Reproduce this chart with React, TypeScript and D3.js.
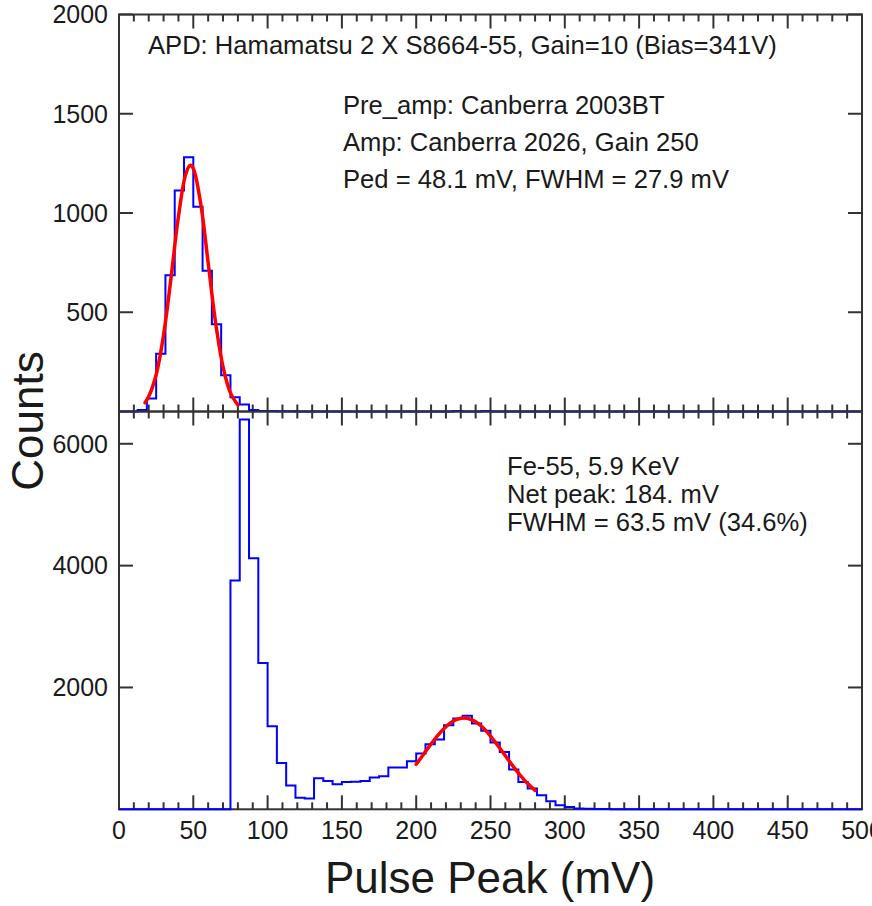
import * as d3 from 'd3'
import React from 'react'

// histogram contents, 80 bins of 6.25 mV between 0 and 500 mV
const BIN_WIDTH = 6.25
const topCounts = [
    0, 0, 8, 65, 291, 687, 1113, 1281, 1032, 709,
    439, 182, 72, 35, 8, 3, 2, 1, 1, 0,
    0, 0, 0, 0, 0, 0, 0, 0, 0, 0,
    0, 0, 0, 0, 0, 0, 2, 0, 0, 2,
    0, 0, 0, 0, 0, 0, 0, 0, 0, 0,
    0, 0, 0, 0, 0, 0, 0, 0, 0, 0,
    0, 0, 0, 0, 0, 0, 0, 0, 0, 0,
    0, 0, 0, 0, 0, 0, 0, 0, 0, 0,
]
const bottomCounts = [
    0, 0, 0, 0, 0, 0, 0, 0, 0, 0,
    0, 0, 3755, 6400, 4120, 2400, 1365, 760, 390, 190,
    176, 510, 466, 411, 449, 452, 466, 521, 543, 685,
    685, 790, 916, 1069, 1146, 1381, 1490, 1535, 1409, 1288,
    1097, 942, 653, 449, 340, 230, 131, 66, 38, 15,
    8, 5, 3, 2, 1, 0, 0, 0, 0, 0,
    0, 0, 0, 0, 0, 0, 0, 0, 0, 0,
    0, 0, 0, 0, 0, 0, 0, 0, 0, 0,
]

// gaussian fits, points [mV, counts]
const pedFit: [number, number][] = [
    [17.5, 44], [20, 75], [25, 185], [30, 386], [35, 673], [40, 982], [45, 1198],
    [48, 1240], [50, 1224], [55, 1046], [60, 749], [65, 448], [70, 225], [75, 94], [80, 33],
]
const peakFit: [number, number][] = [
    [200, 738], [205, 905], [210, 1072], [215, 1227], [220, 1356], [225, 1449], [230, 1495],
    [232, 1500], [235, 1491], [240, 1437], [245, 1338], [250, 1203], [255, 1045], [260, 878],
    [265, 712], [270, 558], [275, 423], [280, 310],
]

const xTickLabels = [0, 50, 100, 150, 200, 250, 300, 350, 400, 450, 500]
const topYTicks = [500, 1000, 1500, 2000]
const bottomYTicks = [2000, 4000, 6000]

const topNotes = [
    'Pre_amp: Canberra 2003BT',
    'Amp: Canberra 2026, Gain 250',
    'Ped = 48.1 mV, FWHM = 27.9 mV',
]
const bottomNotes = [
    'Fe-55, 5.9 KeV',
    'Net peak: 184. mV',
    'FWHM = 63.5 mV (34.6%)',
]

const W = 872
const H = 906
const L = 119, R = 862, T = 14.5, MID = 411.5, B = 809.3
const FONT = '"Liberation Sans", Arial, Helvetica, sans-serif'
const INK = '#1a1a1a'

const x = d3.scaleLinear().domain([0, 500]).range([L, R])
const yTop = d3.scaleLinear().domain([0, 2000]).range([MID, T])
const yBot = d3.scaleLinear().domain([0, 6530]).range([B, MID])

const histPath = (counts: number[], y: d3.ScaleLinear<number, number>) => {
    const pts: [number, number][] = counts.map((c, i) => [i * BIN_WIDTH, c])
    pts.push([500, counts[counts.length - 1]])
    return d3.line<[number, number]>()
        .x(d => x(d[0]))
        .y(d => y(d[1]))
        .curve(d3.curveStepAfter)(pts) || ''
}

const fitPath = (pts: [number, number][], y: d3.ScaleLinear<number, number>) =>
    d3.line<[number, number]>()
        .x(d => x(d[0]))
        .y(d => y(d[1]))
        .curve(d3.curveCatmullRom)(pts) || ''

const Frame = ({ y, top, bottom, ticks }: { y: d3.ScaleLinear<number, number>, top: number, bottom: number, ticks: number[] }) => {
    const minor = d3.range(0, 501, 10)
    return (
        <g stroke="#333" strokeWidth={2} fill="none">
            <rect x={L} y={top} width={R - L} height={bottom - top} />
            {minor.map(v => {
                const len = v % 50 === 0 ? 14 : 7
                return (
                    <g key={v}>
                        <line x1={x(v)} x2={x(v)} y1={top} y2={top + len} />
                        <line x1={x(v)} x2={x(v)} y1={bottom} y2={bottom - len} />
                    </g>
                )
            })}
            {ticks.map(v => (
                <g key={v}>
                    <line x1={L} x2={L + 14} y1={y(v)} y2={y(v)} />
                    <line x1={R} x2={R - 14} y1={y(v)} y2={y(v)} />
                </g>
            ))}
        </g>
    )
}

export default function App() {
    return (
        <svg width={W} height={H} viewBox={`0 0 ${W} ${H}`}
            style={{ position: 'absolute', left: 0, top: 0, background: '#fff' }}
            fontFamily={FONT}>
            <rect width={W} height={H} fill="#fff" />

            {/* top panel: pedestal */}
            <Frame y={yTop} top={T} bottom={MID} ticks={topYTicks} />
            <path d={histPath(topCounts, yTop)} fill="none" stroke="#0000ff" strokeWidth={2} />
            <path d={fitPath(pedFit, yTop)} fill="none" stroke="#ff0000" strokeWidth={3.5} strokeLinecap="round" />

            {/* bottom panel: Fe-55 spectrum */}
            <Frame y={yBot} top={MID} bottom={B} ticks={bottomYTicks} />
            <path d={histPath(bottomCounts, yBot)} fill="none" stroke="#0000ff" strokeWidth={2} />
            <path d={fitPath(peakFit, yBot)} fill="none" stroke="#ff0000" strokeWidth={3.5} strokeLinecap="round" />

            <g fill={INK} fontSize={25}>
                {topYTicks.map(v => (
                    <text key={'t' + v} x={108} y={yTop(v)} dy="0.35em" textAnchor="end">{v}</text>
                ))}
                {bottomYTicks.map(v => (
                    <text key={'b' + v} x={108} y={yBot(v)} dy="0.35em" textAnchor="end">{v}</text>
                ))}
                {xTickLabels.map(v => (
                    <text key={'x' + v} x={x(v)} y={839} textAnchor="middle">{v}</text>
                ))}
            </g>

            <g fill={INK} fontSize={25.6}>
                <text x={148} y={54}>APD: Hamamatsu 2 X S8664-55, Gain=10 (Bias=341V)</text>
                {topNotes.map((s, i) => (
                    <text key={s} x={343} y={114 + i * 37.2}>{s}</text>
                ))}
                {bottomNotes.map((s, i) => (
                    <text key={s} x={507} y={475 + i * 28}>{s}</text>
                ))}
            </g>

            <text x={490} y={893} textAnchor="middle" fontSize={44} fill={INK}>Pulse Peak (mV)</text>
            <text transform="translate(43 421) rotate(-90)" textAnchor="middle" fontSize={44} fill={INK}>Counts</text>
        </svg>
    )
}
